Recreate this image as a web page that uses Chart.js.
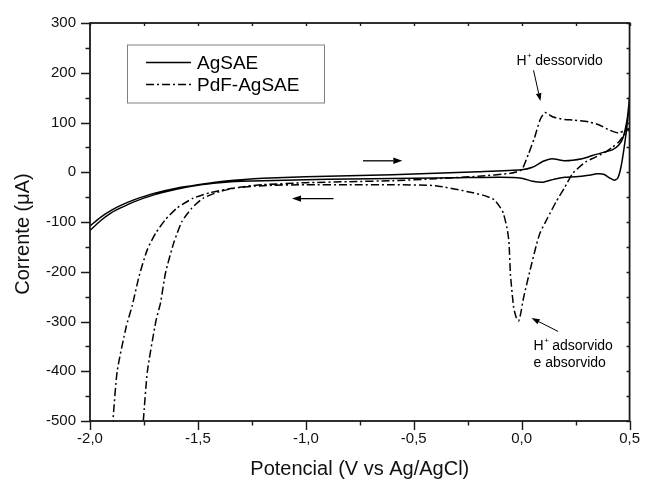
<!DOCTYPE html>
<html><head><meta charset="utf-8">
<script src="https://cdn.jsdelivr.net/npm/chart.js@4"></script>
<style>html,body{margin:0;padding:0;background:#fff;} canvas{display:block;}</style>
</head><body>
<canvas id="c" width="649" height="482"></canvas>
<script>
// ---- tick labels ----
const xTickValues = [-2.0, -1.5, -1.0, -0.5, 0.0, 0.5];
const yTickValues = [-500, -400, -300, -200, -100, 0, 100, 200, 300];
const seriesNames = ['AgSAE', 'PdF-AgSAE'];
const xTitle = 'Potencial (V vs Ag/AgCl)';
const yTitle = 'Corrente (\u03BCA)';

// ---- AgSAE: anodic (forward) branch ----
const agFwdX = [-2.0, -1.95, -1.9, -1.85, -1.8, -1.7, -1.6, -1.5, -1.4, -1.3, -1.2, -1.0, -0.8, -0.6, -0.4, -0.2, 0.0, 0.05, 0.1, 0.14, 0.2, 0.28, 0.33, 0.38, 0.42, 0.45, 0.47, 0.49, 0.5];
const agFwdY = [-108, -90, -76, -65, -56, -42, -32, -25, -19, -15, -12, -9, -7, -5, -2, 1, 5, 10, 22, 27, 23, 27, 34, 40, 45, 55, 70, 110, 152];
// ---- AgSAE: cathodic (return) branch ----
const agRevX = [0.49, 0.475, 0.46, 0.445, 0.43, 0.41, 0.38, 0.35, 0.31, 0.25, 0.2, 0.15, 0.1, 0.05, 0.0, -0.1, -0.3, -0.5, -0.7, -0.9, -1.1, -1.3, -1.4, -1.5, -1.6, -1.7, -1.8, -1.85, -1.9, -1.95, -2.0];
const agRevY = [100, 50, 10, -12, -16, -12, -4, -3, -6, -9, -10, -14, -20, -18, -12, -10, -11, -12, -13, -14, -16, -18, -21, -26, -34, -45, -60, -70, -81, -97, -117];

// ---- PdF-AgSAE: anodic (forward) branch ----
const pdFwdX = [-1.753, -1.734, -1.695, -1.673, -1.65, -1.612, -1.574, -1.528, -1.475, -1.4, -1.307, -1.2, -1.0, -0.8, -0.6, -0.4, -0.2, -0.05, 0.0, 0.03, 0.06, 0.085, 0.108, 0.146, 0.2, 0.237, 0.313, 0.36, 0.405, 0.45, 0.48, 0.5];
const pdFwdY = [-500, -400, -300, -262, -202, -142, -99, -72, -52, -39, -30, -25, -21, -19, -17, -13, -8, -2, 5, 35, 70, 105, 120, 111, 106, 105, 101, 95, 85, 79, 85, 88];
// ---- PdF-AgSAE: cathodic (return) branch ----
const pdRevX = [0.47, 0.45, 0.42, 0.39, 0.34, 0.297, 0.237, 0.2, 0.16, 0.12, 0.085, 0.069, 0.04, 0.009, -0.005, -0.014, -0.025, -0.037, -0.052, -0.059, -0.068, -0.085, -0.097, -0.128, -0.18, -0.25, -0.4, -0.6, -0.8, -1.0, -1.2, -1.338, -1.444, -1.521, -1.597, -1.65, -1.695, -1.734, -1.772, -1.805, -1.832, -1.874, -1.894];
const pdRevY = [72, 61, 50, 41, 30, 21, -2, -30, -59, -92, -122, -145, -195, -252, -285, -299, -292, -272, -205, -139, -112, -82, -72, -55, -46, -39, -27, -25, -25, -25, -27, -32, -41, -52, -72, -95, -122, -155, -208, -269, -310, -400, -500];

// ---- annotations (data coordinates) ----
const scanArrows = [ { x1: -0.735, y1: 23, x2: -0.553, y2: 23 }, { x1: -0.872, y1: -53, x2: -1.064, y2: -53 } ];
const noteArrows = [ { x1: 0.055, y1: 205, x2: 0.087, y2: 143 }, { x1: 0.169, y1: -320, x2: 0.046, y2: -293 } ];
const notes = [
  { x: -0.024, y: 216, lines: [['H', '+', ' dessorvido']] },
  { x: 0.055, y: -357, lines: [['H', '+', ' adsorvido']] },
  { x: 0.055, y: -391, lines: [['', '', 'e absorvido']] }
];

const FONT = '"Liberation Sans", Arial, Helvetica, sans-serif';
const zip = (xs, ys) => xs.map((x, i) => ({ x: x, y: ys[i] }));
const fmt = v => Number(v).toFixed(1).replace('.', ',');

const frame = {
  id: 'frame',
  afterDraw(chart) {
    const ctx = chart.ctx, a = chart.chartArea, sx = chart.scales.x, sy = chart.scales.y;
    ctx.save();
    ctx.strokeStyle = '#1a1a1a';
    ctx.lineWidth = 1.8;
    ctx.strokeRect(a.left, a.top, a.right - a.left, a.bottom - a.top);
    // ticks
    ctx.lineWidth = 1.4;
    const xMin = [];
    for (let i = 0; i < xTickValues.length - 1; i++) xMin.push((xTickValues[i] + xTickValues[i + 1]) / 2);
    const yMin = [];
    for (let i = 0; i < yTickValues.length - 1; i++) yMin.push((yTickValues[i] + yTickValues[i + 1]) / 2);
    ctx.beginPath();
    xTickValues.forEach(v => { const p = Math.round(sx.getPixelForValue(v)) + 0.5; ctx.moveTo(p, a.bottom); ctx.lineTo(p, a.bottom + 9); ctx.moveTo(p, a.top); ctx.lineTo(p, a.top + 3); });
    xMin.forEach(v => { const p = Math.round(sx.getPixelForValue(v)) + 0.5; ctx.moveTo(p, a.bottom); ctx.lineTo(p, a.bottom + 4.5); ctx.moveTo(p, a.top); ctx.lineTo(p, a.top + 3); });
    yTickValues.forEach(v => { const p = Math.round(sy.getPixelForValue(v)) + 0.5; ctx.moveTo(a.left, p); ctx.lineTo(a.left - 9, p); ctx.moveTo(a.right, p); ctx.lineTo(a.right - 3, p); });
    yMin.forEach(v => { const p = Math.round(sy.getPixelForValue(v)) + 0.5; ctx.moveTo(a.left, p); ctx.lineTo(a.left - 4.5, p); ctx.moveTo(a.right, p); ctx.lineTo(a.right - 3, p); });
    ctx.stroke();

    // axis titles
    ctx.fillStyle = '#111';
    ctx.font = '20px ' + FONT;
    ctx.textAlign = 'center';
    ctx.textBaseline = 'middle';
    ctx.fillText(xTitle, (a.left + a.right) / 2, 469);
    ctx.save();
    ctx.translate(23, (a.top + a.bottom) / 2 + 12);
    ctx.rotate(-Math.PI / 2);
    ctx.fillText(yTitle, 0, 0);
    ctx.restore();

    // legend
    const lx = a.left + 37, ly = a.top + 21.5, lw = 197, lh = 58;
    ctx.strokeStyle = '#808080';
    ctx.lineWidth = 1;
    ctx.strokeRect(lx + 0.5, ly + 0.5, lw, lh);
    ctx.strokeStyle = '#000';
    ctx.lineWidth = 1.6;
    const rows = [ { y: ly + 18, dash: [] }, { y: ly + 40, dash: [8, 3, 2, 3] } ];
    rows.forEach((r, i) => {
      ctx.setLineDash(r.dash);
      ctx.beginPath(); ctx.moveTo(lx + 19, r.y); ctx.lineTo(lx + 64, r.y); ctx.stroke();
      ctx.setLineDash([]);
      ctx.font = '19px ' + FONT;
      ctx.textAlign = 'left';
      ctx.textBaseline = 'middle';
      ctx.fillStyle = '#000';
      ctx.fillText(seriesNames[i], lx + 70, r.y + 1);
    });

    // arrows
    const arrow = (x1, y1, x2, y2, len, half) => {
      const px1 = sx.getPixelForValue(x1), py1 = sy.getPixelForValue(y1);
      const px2 = sx.getPixelForValue(x2), py2 = sy.getPixelForValue(y2);
      const ang = Math.atan2(py2 - py1, px2 - px1);
      const bx = px2 - len * Math.cos(ang), by = py2 - len * Math.sin(ang);
      ctx.beginPath(); ctx.moveTo(px1, py1); ctx.lineTo(bx, by); ctx.stroke();
      ctx.beginPath();
      ctx.moveTo(px2, py2);
      ctx.lineTo(bx + half * Math.sin(ang), by - half * Math.cos(ang));
      ctx.lineTo(bx - half * Math.sin(ang), by + half * Math.cos(ang));
      ctx.closePath(); ctx.fill();
    };
    ctx.strokeStyle = '#000'; ctx.fillStyle = '#000';
    ctx.lineWidth = 1.3;
    scanArrows.forEach(r => arrow(r.x1, r.y1, r.x2, r.y2, 9, 3.2));
    ctx.lineWidth = 1;
    noteArrows.forEach(r => arrow(r.x1, r.y1, r.x2, r.y2, 8, 2.8));

    // notes
    ctx.textBaseline = 'alphabetic';
    ctx.textAlign = 'left';
    notes.forEach(n => {
      let px = sx.getPixelForValue(n.x);
      const py = sy.getPixelForValue(n.y);
      n.lines.forEach(parts => {
        ctx.font = '14px ' + FONT;
        if (parts[0]) { ctx.fillText(parts[0], px, py); px += ctx.measureText(parts[0]).width; }
        if (parts[1]) { ctx.font = '8px ' + FONT; ctx.fillText(parts[1], px + 0.5, py - 7); px += ctx.measureText(parts[1]).width; }
        ctx.font = '14px ' + FONT;
        ctx.fillText(parts[2], px, py);
      });
    });
    ctx.restore();
  }
};

new Chart(document.getElementById('c'), {
  type: 'scatter',
  data: {
    datasets: [
      { label: seriesNames[0], data: zip(agFwdX.concat(agRevX), agFwdY.concat(agRevY)), showLine: true, borderColor: '#000', borderWidth: 1.5, pointRadius: 0, tension: 0.2, fill: false },
      { label: seriesNames[1], data: zip(pdFwdX.concat(pdRevX), pdFwdY.concat(pdRevY)), showLine: true, borderColor: '#000', borderWidth: 1.5, borderDash: [8, 3, 2, 3], pointRadius: 0, tension: 0.2, fill: false }
    ]
  },
  options: {
    responsive: false,
    animation: false,
    layout: { padding: { left: 0, right: 12, top: 21, bottom: 0 } },
    plugins: { legend: { display: false }, tooltip: { enabled: false } },
    scales: {
      x: {
        type: 'linear', min: -2, max: 0.5,
        grid: { display: false, drawTicks: false, tickLength: 0 },
        border: { display: false },
        ticks: { font: { size: 15, family: FONT }, color: '#111', padding: 9, maxRotation: 0, autoSkip: false, callback: v => fmt(v) },
        afterBuildTicks: s => { s.ticks = xTickValues.map(v => ({ value: v })); },
        afterFit: s => { s.height = 61; }
      },
      y: {
        type: 'linear', min: -500, max: 300,
        grid: { display: false, drawTicks: false, tickLength: 0 },
        border: { display: false },
        ticks: { font: { size: 15, family: FONT }, color: '#111', padding: 14, autoSkip: false, callback: v => String(v) },
        afterBuildTicks: s => { s.ticks = yTickValues.map(v => ({ value: v })); },
        afterFit: s => { s.width = 90; }
      }
    }
  },
  plugins: [frame]
});
</script>
</body></html>
